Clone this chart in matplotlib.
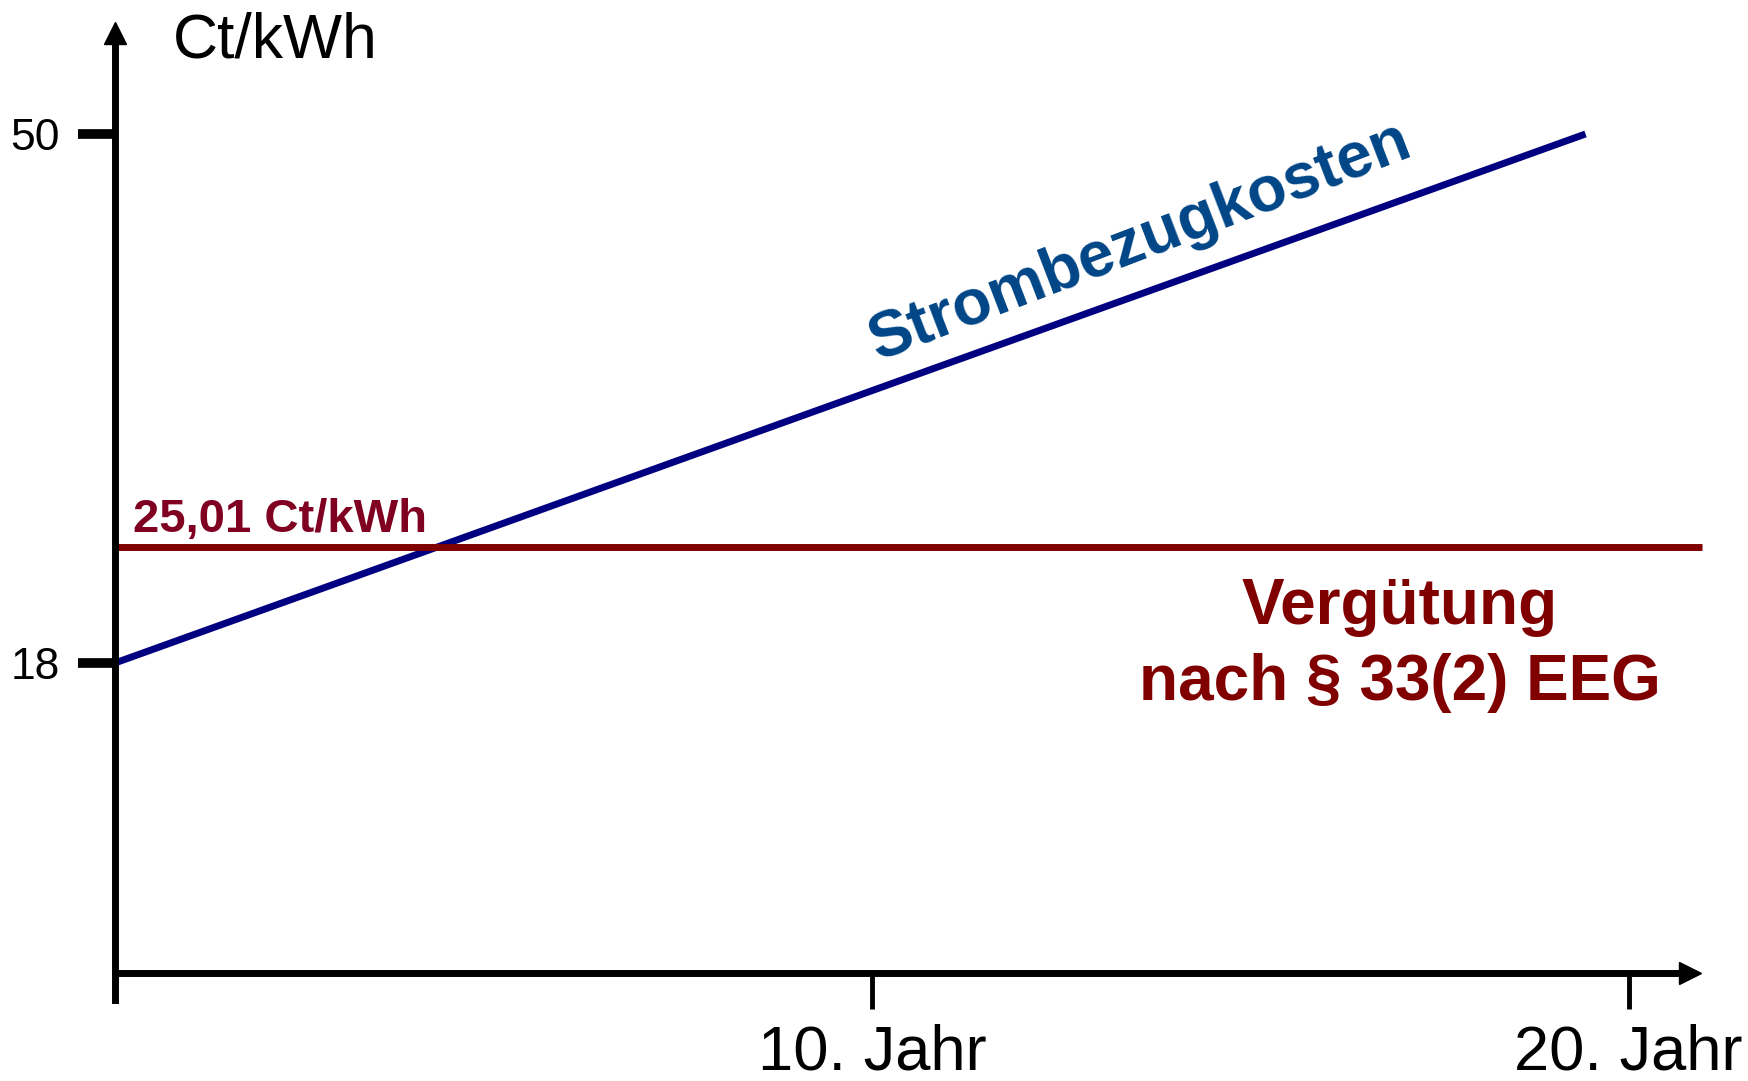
import numpy as np
import matplotlib
matplotlib.use("Agg")
import matplotlib.pyplot as plt

plt.rcParams['font.family'] = ['Liberation Sans', 'DejaVu Sans']

# data
years_strom = [0, 19.43]          # Strombezugkosten, start and end (years)
strom_values = [18, 50]           # Ct/kWh
years_verg = [0, 20.97]           # Vergütung stays flat
verg_values = [25.01, 25.01]
ytick_values = [18, 50]
ytick_labels = ["18", "50"]
xtick_values = [10, 20]
xtick_labels = ["10. Jahr", "20. Jahr"]

xmax = 20.81
ymin, ymax = -2.39, 56.11
x_axis_level = -0.755

fig = plt.figure(figsize=(17.48, 10.81), dpi=100)
ax = fig.add_axes([0.0658, 0.0749, 0.9010, 0.8946])
ax.set_xlim(0, xmax)
ax.set_ylim(ymin, ymax)

# axes drawn as arrows
for s in ["top", "right"]:
    ax.spines[s].set_visible(False)
ax.spines["left"].set_linewidth(5)
ax.spines["bottom"].set_linewidth(5)
ax.spines["bottom"].set_position(("data", x_axis_level))
ax.plot(xmax, x_axis_level, ">k", ms=16.5, clip_on=False)
ax.plot(0, ymax, "^k", ms=16.5, clip_on=False)

ax.set_yticks(ytick_values, ytick_labels, fontsize=32)
ax.set_xticks(xtick_values, xtick_labels, fontsize=45.5)
ax.tick_params(axis="y", direction="out", length=27, width=7, pad=13)
ax.tick_params(axis="x", direction="out", length=26, width=3.5, pad=10)

# lines
ax.plot(years_strom, strom_values, color="#000080", lw=5, solid_capstyle="butt")
ax.plot(years_verg, verg_values, color="#800000", lw=5, solid_capstyle="butt", clip_on=False)

# texts
ax.text(0.76, 54.6, "Ct/kWh", fontsize=45, ha="left", va="baseline")
ax.text(0.24, 25.92, "25,01 Ct/kWh", fontsize=34, fontweight="bold",
        color="#7f0020", ha="left", va="baseline")
ax.text(16.98, 20.36, "Vergütung", fontsize=46, fontweight="bold",
        color="#800000", ha="center", va="baseline")
ax.text(16.98, 15.76, "nach § 33(2) EEG", fontsize=46, fontweight="bold",
        color="#800000", ha="center", va="baseline")
ax.text(13.62, 42.5, "Strombezugkosten", fontsize=46, fontweight="bold",
        color="#004586", ha="center", va="baseline", rotation=21,
        rotation_mode="anchor")

fig.savefig("out.png", dpi=100)
